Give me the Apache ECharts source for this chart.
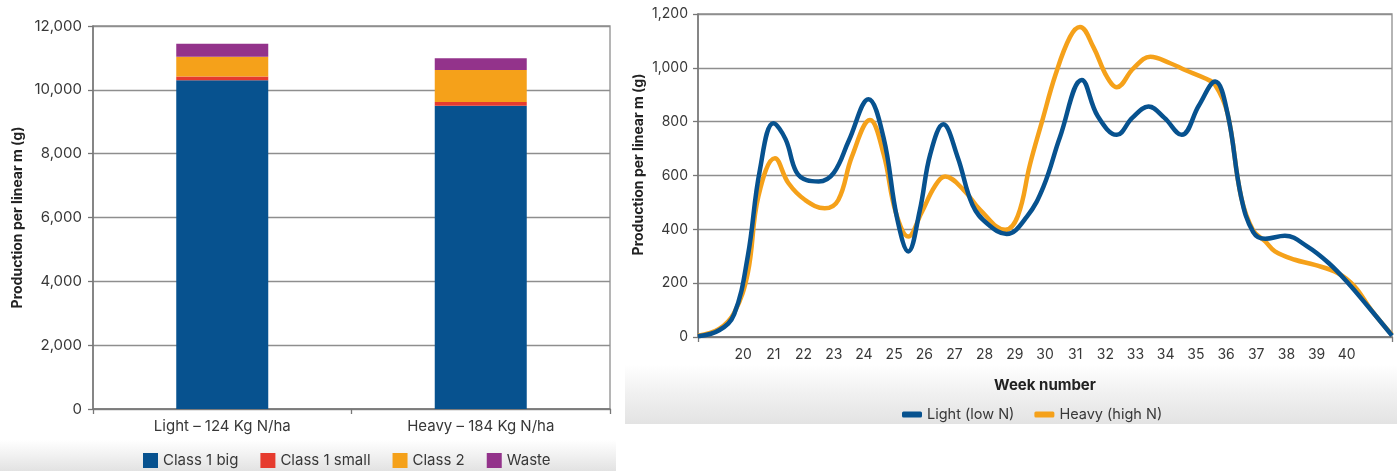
<!DOCTYPE html>
<html>
<head>
<meta charset="utf-8">
<script src="https://cdn.jsdelivr.net/npm/echarts@6/dist/echarts.min.js"></script>
<style>
  html, body { margin: 0; padding: 0; background: #ffffff; }
  #chart { width: 1400px; height: 471px; }
</style>
</head>
<body>
<div id="chart"></div>
<script>
// ---- Yield by grade (stacked bars) ----
const treatments = ['Light – 124 Kg N/ha', 'Heavy – 184 Kg N/ha'];
const class1Big = [10300, 9500];
const class1Small = [120, 115];
const class2 = [620, 1010];
const waste = [400, 365];

// ---- Weekly production (lines): [week, g per linear m] ----
const lightLowN = [
  [18.5, 3], [19.2, 25], [19.7, 85], [20.15, 300], [20.55, 620], [21.0, 794], [21.4, 735],
  [21.75, 615], [22.1, 583], [22.5, 578], [23.0, 610], [23.5, 730], [24.15, 883], [24.65, 740],
  [25.1, 440], [25.47, 318], [25.85, 470], [26.2, 680], [26.63, 790], [27.1, 670],
  [27.6, 490], [28.1, 420], [28.73, 383], [29.4, 447], [29.95, 559], [30.5, 744],
  [31.22, 955], [31.75, 820], [32.38, 751], [32.9, 815], [33.43, 856], [33.95, 815],
  [34.53, 751], [35.1, 860], [35.64, 949], [36.05, 830], [36.5, 520], [36.9, 390],
  [37.3, 365], [37.95, 376], [38.7, 336], [39.4, 275], [40.05, 200], [40.7, 114], [41.5, 5]
];
const heavyHighN = [
  [18.5, 5], [19.2, 30], [19.7, 90], [20.15, 238], [20.5, 522], [21.05, 664], [21.5, 571],
  [22.05, 509], [22.7, 478], [23.15, 509], [23.6, 670], [24.2, 806], [24.65, 680],
  [25.05, 465], [25.47, 373], [25.9, 460], [26.35, 560], [26.69, 596], [27.3, 547],
  [27.85, 472], [28.68, 398], [29.1, 450], [29.5, 640], [29.9, 800], [30.35, 975],
  [30.83, 1115], [31.16, 1152], [31.6, 1078], [32.05, 967], [32.38, 928], [32.93, 998],
  [33.49, 1041], [34.15, 1017], [34.64, 992], [35.3, 961], [35.64, 936], [36.05, 830],
  [36.5, 520], [36.9, 395], [37.3, 355], [37.62, 318], [38.28, 287], [38.94, 268],
  [39.71, 237], [40.26, 188], [40.81, 101], [41.5, 8]
];
const weekLabels = [20, 21, 22, 23, 24, 25, 26, 27, 28, 29, 30, 31, 32, 33, 34, 35, 36, 37, 38, 39, 40];

const FONT = 'Inter, "Open Sans", sans-serif';
const TEXT = '#383838';
const GRID_LINE = '#8e8e8e';
const AXIS_LINE = '#777777';

const BLUE = '#07528f';
const RED = '#e63b2e';
const ORANGE = '#f5a11a';
const PURPLE = '#93338b';

const fmt = v => Number(v).toLocaleString('en-US');

const chart = echarts.init(document.getElementById('chart'), null, { renderer: 'canvas' });

const option = {
  backgroundColor: '#ffffff',
  animation: false,
  textStyle: { fontFamily: FONT },
  graphic: [
    // faded photo strip under the bar chart legend
    {
      type: 'rect', z: -100, silent: true,
      shape: { x: 0, y: 440, width: 616, height: 31 },
      style: {
        fill: new echarts.graphic.LinearGradient(0, 0, 0, 1, [
          { offset: 0, color: '#ffffff' },
          { offset: 0.5, color: '#f1f1f1' },
          { offset: 1, color: '#e2e2e2' }
        ])
      }
    },
    // panel behind the weekly production chart
    {
      type: 'rect', z: -100, silent: true,
      shape: { x: 625, y: 0, width: 772, height: 424 },
      style: {
        fill: new echarts.graphic.LinearGradient(0, 0, 0, 1, [
          { offset: 0, color: '#ffffff' },
          { offset: 0.86, color: '#ffffff' },
          { offset: 0.93, color: '#f0f0f0' },
          { offset: 1, color: '#e3e3e3' }
        ])
      }
    }
  ],
  legend: [
    {
      data: ['Class 1 big', 'Class 1 small', 'Class 2', 'Waste'],
      left: 138, top: 448,
      icon: 'rect', itemWidth: 15, itemHeight: 15, itemGap: 22,
      textStyle: { fontFamily: FONT, fontSize: 15, color: TEXT }
    },
    {
      data: ['Light (low N)', 'Heavy (high N)'],
      left: 897, top: 402,
      icon: 'roundRect', itemWidth: 20, itemHeight: 6, itemGap: 20,
      textStyle: { fontFamily: FONT, fontSize: 14.5, color: TEXT }
    }
  ],
  grid: [
    { left: 93, right: 790, top: 26, bottom: 62, show: true, borderColor: GRID_LINE, borderWidth: 1.3, backgroundColor: 'transparent' },
    { left: 698, right: 8, top: 14, bottom: 134, show: true, borderColor: GRID_LINE, borderWidth: 1.3, backgroundColor: 'transparent' }
  ],
  xAxis: [
    {
      gridIndex: 0, type: 'category', data: treatments,
      axisLine: { lineStyle: { color: AXIS_LINE, width: 1.5 } },
      axisTick: { show: true, length: 5, lineStyle: { color: AXIS_LINE, width: 1.3 } },
      axisLabel: { margin: 10, fontFamily: FONT, fontSize: 15, color: TEXT }
    },
    {
      gridIndex: 1, type: 'value', min: 18.5, max: 41.5,
      name: 'Week number', nameLocation: 'middle', nameGap: 41,
      nameTextStyle: { fontFamily: FONT, fontSize: 15, fontWeight: 'bold', color: '#222' },
      axisLine: { onZero: false, lineStyle: { color: AXIS_LINE, width: 1.5 } },
      axisTick: { show: true, length: 5, customValues: [18.5, 41.5], lineStyle: { color: AXIS_LINE, width: 1.3 } },
      splitLine: { show: false },
      axisLabel: { margin: 11, customValues: weekLabels, fontFamily: FONT, fontSize: 14, color: TEXT }
    }
  ],
  yAxis: [
    {
      gridIndex: 0, type: 'value', min: 0, max: 12000, interval: 2000,
      name: 'Production per linear m (g)', nameLocation: 'middle', nameGap: 68,
      nameTextStyle: { fontFamily: FONT, fontSize: 14, fontWeight: 'bold', color: '#222' },
      axisLine: { show: true, lineStyle: { color: AXIS_LINE, width: 1.5 } },
      axisTick: { show: true, length: 5, lineStyle: { color: AXIS_LINE, width: 1.3 } },
      splitLine: { lineStyle: { color: GRID_LINE, width: 1.3 } },
      axisLabel: { margin: 11, formatter: fmt, fontFamily: FONT, fontSize: 15, color: TEXT }
    },
    {
      gridIndex: 1, type: 'value', min: 0, max: 1200, interval: 200,
      name: 'Production per linear m (g)', nameLocation: 'middle', nameGap: 52,
      nameTextStyle: { fontFamily: FONT, fontSize: 14, fontWeight: 'bold', color: '#222', padding: [0, 0, 0, 22] },
      axisLine: { show: true, lineStyle: { color: AXIS_LINE, width: 1.5 } },
      axisTick: { show: true, length: 5, lineStyle: { color: AXIS_LINE, width: 1.3 } },
      splitLine: { lineStyle: { color: GRID_LINE, width: 1.3 } },
      axisLabel: { margin: 10, formatter: fmt, fontFamily: FONT, fontSize: 14, color: TEXT }
    }
  ],
  series: [
    { name: 'Class 1 big', type: 'bar', stack: 'yield', xAxisIndex: 0, yAxisIndex: 0, barWidth: 92, itemStyle: { color: BLUE }, data: class1Big },
    { name: 'Class 1 small', type: 'bar', stack: 'yield', xAxisIndex: 0, yAxisIndex: 0, barWidth: 92, itemStyle: { color: RED }, data: class1Small },
    { name: 'Class 2', type: 'bar', stack: 'yield', xAxisIndex: 0, yAxisIndex: 0, barWidth: 92, itemStyle: { color: ORANGE }, data: class2 },
    { name: 'Waste', type: 'bar', stack: 'yield', xAxisIndex: 0, yAxisIndex: 0, barWidth: 92, itemStyle: { color: PURPLE }, data: waste },
    {
      name: 'Heavy (high N)', type: 'line', xAxisIndex: 1, yAxisIndex: 1,
      smooth: 0.4, showSymbol: false, z: 3,
      lineStyle: { color: ORANGE, width: 4.5 }, itemStyle: { color: ORANGE },
      data: heavyHighN
    },
    {
      name: 'Light (low N)', type: 'line', xAxisIndex: 1, yAxisIndex: 1,
      smooth: 0.4, showSymbol: false, z: 4,
      lineStyle: { color: BLUE, width: 4.5 }, itemStyle: { color: BLUE },
      data: lightLowN
    }
  ]
};

chart.setOption(option);
</script>
</body>
</html>
